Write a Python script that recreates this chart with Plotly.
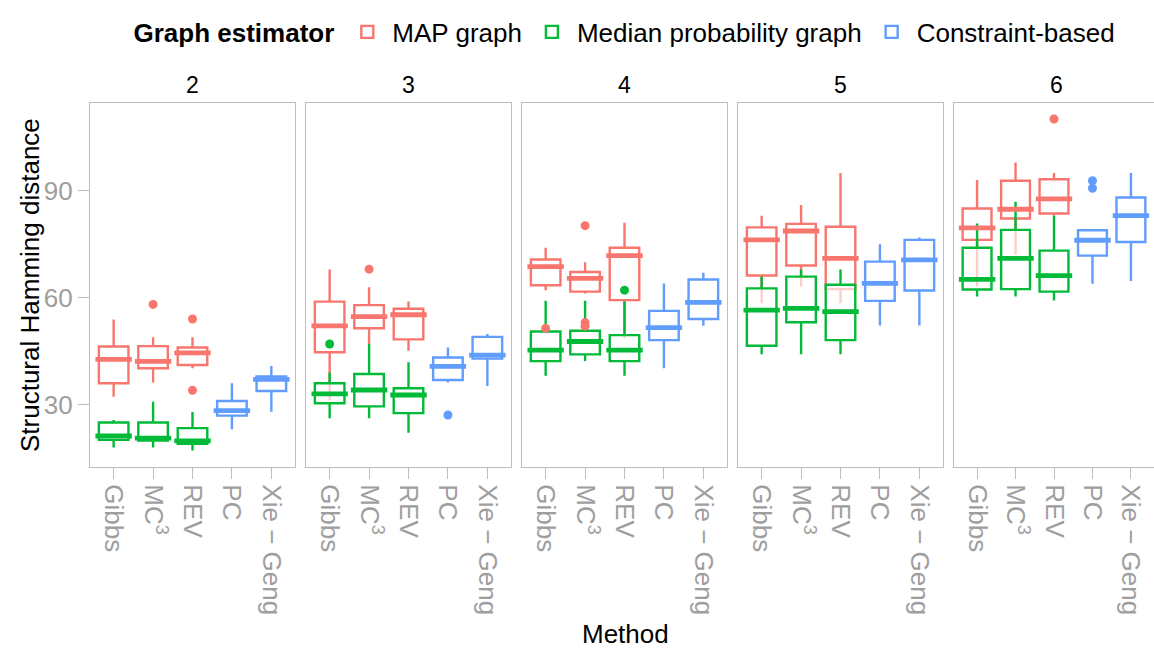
import plotly.graph_objects as go

# ---------------- data ----------------
facets = ["2", "3", "4", "5", "6"]
mcmc_methods = ["Gibbs", "MC<sup>3</sup>", "REV"]
cb_methods = ["PC", "Xie − Geng"]
all_methods = mcmc_methods + cb_methods

# MAP graph (per facet: Gibbs, MC3, REV)
map_lo = [[32.2, 36.2, 40.2], [31.3, 47.0, 45.1], [62.1, 61.2, 48.6], [58.4, 63.1, 58.4], [63.1, 72.1, 83.0]]
map_q1 = [[36.0, 40.2, 41.1], [44.7, 51.4, 48.3], [63.5, 61.7, 59.3], [66.2, 69.0, 62.4], [76.2, 82.2, 83.6]]
map_med = [[42.7, 42.1, 44.5], [52.1, 54.7, 55.2], [68.7, 65.4, 71.8], [76.2, 78.7, 71.0], [79.6, 84.8, 87.7]]
map_q3 = [[46.3, 46.4, 46.0], [58.9, 57.9, 56.9], [70.7, 67.2, 74.0], [79.7, 80.7, 79.9], [85.0, 92.8, 93.2]]
map_hi = [[53.9, 48.9, 48.9], [67.9, 62.9, 58.9], [74.0, 69.9, 81.0], [83.0, 86.0, 95.0], [93.0, 97.9, 95.0]]
map_out_x = [["MC<sup>3</sup>", "REV", "REV"], ["MC<sup>3</sup>"], ["Gibbs", "MC<sup>3</sup>", "MC<sup>3</sup>", "MC<sup>3</sup>"], [], ["REV"]]
map_out_y = [[58.1, 54.0, 34.0], [68.0], [51.4, 80.2, 53.0, 52.0], [], [110.1]]

# Median probability graph
mpg_lo = [[18.0, 18.0, 17.1], [26.2, 26.2, 22.1], [38.1, 42.2, 38.1], [44.1, 44.1, 44.1], [60.3, 60.3, 59.2]]
mpg_q1 = [[20.1, 19.9, 19.0], [30.4, 29.5, 27.6], [42.2, 44.1, 42.2], [46.5, 53.1, 48.1], [62.3, 62.4, 61.7]]
mpg_med = [[21.2, 20.6, 19.8], [33.0, 34.1, 32.7], [45.3, 47.7, 45.3], [56.5, 57.0, 56.1], [65.1, 71.0, 66.2]]
mpg_q3 = [[25.0, 25.0, 23.4], [36.0, 38.6, 34.6], [50.5, 50.7, 49.5], [62.6, 65.9, 63.6], [74.0, 79.0, 73.2]]
mpg_hi = [[25.7, 30.8, 27.9], [39.0, 47.0, 41.9], [59.1, 59.1, 58.9], [65.9, 67.9, 67.9], [80.8, 86.9, 83.0]]
mpg_out_x = [[], ["Gibbs"], ["REV"], [], []]
mpg_out_y = [[], [47.0], [62.1], [], []]

# Constraint-based (per facet: PC, Xie-Geng)
cb_lo = [[23.1, 28.0], [36.2, 35.2], [40.2, 52.1], [52.2, 52.2], [63.9, 64.7]]
cb_q1 = [[26.9, 33.8], [36.9, 42.9], [48.1, 54.0], [59.1, 62.0], [71.8, 75.6]]
cb_med = [[28.3, 37.1], [40.7, 43.9], [51.6, 58.7], [64.0, 70.6], [76.1, 83.0]]
cb_q3 = [[31.0, 37.9], [43.2, 49.0], [56.3, 65.1], [70.1, 76.2], [78.9, 88.1]]
cb_hi = [[36.0, 40.8], [46.0, 49.8], [64.0, 67.0], [75.0, 76.9], [78.9, 95.0]]
cb_out_x = [[], ["PC"], [], [], ["PC", "PC"]]
cb_out_y = [[], [27.1], [], [], [92.8, 90.7]]

y_ticks = [30, 60, 90]

# ---------------- styling ----------------
W, H = 1154, 649
FONT = "Liberation Sans, Arial, Helvetica, sans-serif"
RED, GREEN, BLUE = "#F8766D", "#00BA38", "#619CFF"
BORDER = "#BEBEBE"
TICKTXT = "#9E9E9E"
FILL = "rgba(255,255,255,0.65)"
panel_w, gap, left0 = 205, 11, 90
top_px, bottom_px = 103, 467

series = [
    ("MAP graph", RED, mcmc_methods, map_lo, map_q1, map_med, map_q3, map_hi, map_out_x, map_out_y),
    ("Median probability graph", GREEN, mcmc_methods, mpg_lo, mpg_q1, mpg_med, mpg_q3, mpg_hi, mpg_out_x, mpg_out_y),
    ("Constraint-based", BLUE, cb_methods, cb_lo, cb_q1, cb_med, cb_q3, cb_hi, cb_out_x, cb_out_y),
]

fig = go.Figure()
annotations = []
layout_axes = {}

for i, fac in enumerate(facets):
    xa = "x" if i == 0 else f"x{i+1}"
    ya = "y" if i == 0 else f"y{i+1}"
    for (name, col, cats, lo, q1, med, q3, hi, ox, oy) in series:
        fig.add_trace(go.Box(
            x=cats, q1=q1[i], median=med[i], q3=q3[i],
            lowerfence=lo[i], upperfence=hi[i],
            name=name, legendgroup=name, showlegend=(i == 0),
            boxpoints=False, whiskerwidth=0, width=0.75,
            line=dict(color=col, width=2.4), fillcolor=FILL,
            xaxis=xa, yaxis=ya, hoverinfo="skip",
        ))
        fig.add_trace(go.Scatter(
            x=cats, y=med[i], mode="markers", showlegend=False, hoverinfo="skip",
            marker=dict(symbol="line-ew", size=26, color=col, line=dict(color=col, width=4.8)),
            xaxis=xa, yaxis=ya,
        ))
        if oy[i]:
            fig.add_trace(go.Scatter(
                x=ox[i], y=oy[i], mode="markers", showlegend=False, hoverinfo="skip",
                marker=dict(symbol="circle", size=9, color=col),
                xaxis=xa, yaxis=ya,
            ))
    l = left0 + i * (panel_w + gap)
    r = min(l + panel_w, W)
    xkey = "xaxis" if i == 0 else f"xaxis{i+1}"
    ykey = "yaxis" if i == 0 else f"yaxis{i+1}"
    layout_axes[xkey] = dict(
        domain=[l / W, r / W], anchor=ya, type="category",
        categoryorder="array", categoryarray=all_methods, range=[-0.6, 4.6],
        showline=True, mirror=True, linecolor=BORDER, linewidth=1.3,
        ticks="outside", ticklen=11, tickwidth=1.3, tickcolor=BORDER,
        tickangle=90, tickfont=dict(size=26, color=TICKTXT, family=FONT),
        showgrid=False, zeroline=False, fixedrange=True,
    )
    layout_axes[ykey] = dict(
        domain=[(H - bottom_px) / H, (H - top_px) / H], anchor=xa,
        range=[12.5, 114.6], tickvals=y_ticks,
        showline=True, mirror=True, linecolor=BORDER, linewidth=1.3,
        ticks="outside" if i == 0 else "", ticklen=11, tickwidth=1.3, tickcolor=BORDER,
        showticklabels=(i == 0), tickfont=dict(size=26, color=TICKTXT, family=FONT),
        showgrid=False, zeroline=False, fixedrange=True,
    )
    annotations.append(dict(
        text=fac, xref="paper", yref="paper", x=(l + panel_w / 2) / W, y=(H - 85) / H,
        xanchor="center", yanchor="middle", showarrow=False,
        font=dict(size=23, color="black", family=FONT),
    ))

annotations.append(dict(
    text="Structural Hamming distance", xref="paper", yref="paper",
    x=30 / W, y=(H - (top_px + bottom_px) / 2) / H, textangle=-90,
    xanchor="center", yanchor="middle", showarrow=False,
    font=dict(size=26, color="black", family=FONT),
))
annotations.append(dict(
    text="Method", xref="paper", yref="paper",
    x=625 / W, y=(H - 634) / H, xanchor="center", yanchor="middle", showarrow=False,
    font=dict(size=26, color="black", family=FONT),
))

fig.update_layout(
    width=W, height=H, margin=dict(l=0, r=0, t=0, b=0),
    paper_bgcolor="white", plot_bgcolor="white",
    boxmode="overlay", font=dict(family=FONT, size=26, color="black"),
    showlegend=True,
    legend=dict(
        orientation="h", x=626 / W, xanchor="center", y=(H - 32) / H, yanchor="middle",
        title=dict(text="<b>Graph estimator</b>", font=dict(size=26, family=FONT)),
        font=dict(size=26, family=FONT), itemwidth=40, bgcolor="rgba(0,0,0,0)",
    ),
    annotations=annotations,
    **layout_axes,
)

fig.write_html(
    "out.html",
    config={"displayModeBar": False},
    post_script="document.body.style.margin='0';document.body.style.overflow='hidden';",
)
